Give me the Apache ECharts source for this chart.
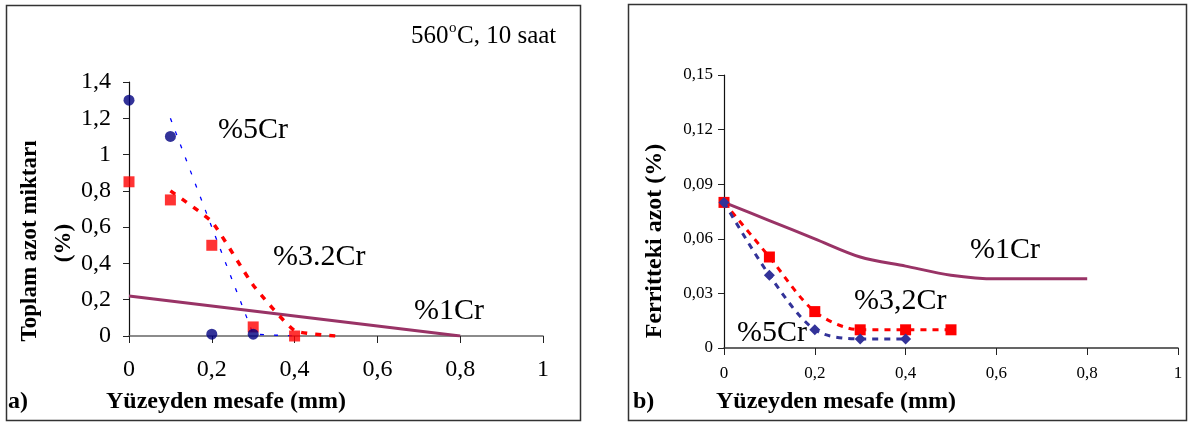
<!DOCTYPE html>
<html>
<head>
<meta charset="utf-8">
<script src="https://cdn.jsdelivr.net/npm/echarts@6/dist/echarts.min.js"></script>
<style>
html,body{margin:0;padding:0;background:#fff;}
#c{width:1190px;height:423px;}
</style>
</head>
<body>
<div id="c"></div>
<script>
// ---- Tick labels ----
const xTickLabels = ['0', '0,2', '0,4', '0,6', '0,8', '1'];
const leftYTickLabels = ['0', '0,2', '0,4', '0,6', '0,8', '1', '1,2', '1,4'];
const rightYTickLabels = ['0', '0,03', '0,06', '0,09', '0,12', '0,15'];

// ---- Data (panel a: total nitrogen) ----
const a_5Cr_points = [[0, 1.3], [0.1, 1.1], [0.2, 0.01], [0.3, 0.01]];
const a_5Cr_trend = [[0.1, 1.2], [0.2, 0.6], [0.3, 0.01], [0.4, 0.0]];
const a_32Cr_points = [[0, 0.85], [0.1, 0.75], [0.2, 0.5], [0.3, 0.05], [0.4, 0.0]];
const a_32Cr_trend = [[0.1, 0.8], [0.2, 0.63], [0.3, 0.28], [0.4, 0.03], [0.5, 0.0]];
const a_1Cr_line = [[0, 0.22], [0.8, 0.0]];

// ---- Data (panel b: nitrogen in ferrite) ----
const b_1Cr = [[0, 0.08], [0.1, 0.07], [0.2, 0.06], [0.3, 0.05], [0.4, 0.045], [0.5, 0.04], [0.6, 0.038], [0.8, 0.038]];
const b_32Cr = [[0, 0.08], [0.1, 0.05], [0.2, 0.02], [0.3, 0.01], [0.4, 0.01], [0.5, 0.01]];
const b_5Cr = [[0, 0.08], [0.1, 0.04], [0.2, 0.01], [0.3, 0.005], [0.4, 0.005]];

const FONT = '"Liberation Serif", "Times New Roman", serif';
const fmt = (labels, step) => v => labels[Math.round(v / step)] ?? '';

// measure text widths for the superscript annotation
const mctx = document.createElement('canvas').getContext('2d');
function tw(text, font) { mctx.font = font; return mctx.measureText(text).width; }
const annFont = '25px ' + FONT, supFont = '15px ' + FONT;
const annX = 411;
const w560 = tw('560', annFont), wSup = tw('o', supFont);

const chart = echarts.init(document.getElementById('c'), null, {renderer: 'canvas'});

function xAxisCfg(gridIndex, fs, margin, lineColor) {
  return {
    gridIndex, type: 'value', min: 0, max: 1, interval: 0.2,
    axisLine: {show: true, lineStyle: {color: lineColor, width: 1.5}},
    axisTick: {show: true, length: 7, lineStyle: {color: '#222', width: 1}},
    axisLabel: {fontFamily: FONT, fontSize: fs, color: '#000', margin, formatter: fmt(xTickLabels, 0.2)},
    splitLine: {show: false}
  };
}
function yAxisCfg(gridIndex, max, interval, labels, fs, margin) {
  return {
    gridIndex, type: 'value', min: 0, max, interval,
    axisLine: {show: true, onZero: false, lineStyle: {color: '#111', width: 1.2}},
    axisTick: {show: true, length: 6, lineStyle: {color: '#222', width: 1}},
    axisLabel: {fontFamily: FONT, fontSize: fs, color: '#000', margin, formatter: fmt(labels, interval)},
    splitLine: {show: false}
  };
}

const option = {
  backgroundColor: '#fff',
  animation: false,
  grid: [
    {left: 129, top: 82, width: 414, height: 254},
    {left: 724, top: 75, width: 454, height: 273}
  ],
  xAxis: [xAxisCfg(0, 24, 22, '#666'), xAxisCfg(1, 17, 17, '#333')],
  yAxis: [
    yAxisCfg(0, 1.4, 0.2, leftYTickLabels, 24, 18),
    yAxisCfg(1, 0.15, 0.03, rightYTickLabels, 17, 11)
  ],
  series: [
    // panel a
    {type: 'line', xAxisIndex: 0, yAxisIndex: 0, data: a_1Cr_line, showSymbol: false,
     lineStyle: {color: '#993366', width: 3}, z: 2},
    {type: 'line', xAxisIndex: 0, yAxisIndex: 0, data: a_5Cr_trend, showSymbol: false,
     lineStyle: {color: '#0000ff', width: 1.3, type: [4, 10]}, z: 3},
    {type: 'line', xAxisIndex: 0, yAxisIndex: 0, data: a_32Cr_trend, showSymbol: false, smooth: 0.15,
     lineStyle: {color: '#ff0000', width: 3.5, type: [6, 8]}, z: 3},
    {type: 'scatter', xAxisIndex: 0, yAxisIndex: 0, data: a_32Cr_points, symbol: 'rect', symbolSize: 11,
     itemStyle: {color: '#ff0000'}, z: 4},
    {type: 'scatter', xAxisIndex: 0, yAxisIndex: 0, data: a_5Cr_points, symbol: 'circle', symbolSize: 11,
     itemStyle: {color: '#000080'}, z: 5},
    // panel b
    {type: 'line', xAxisIndex: 1, yAxisIndex: 1, data: b_1Cr, showSymbol: false, smooth: 0.3,
     lineStyle: {color: '#993366', width: 3}, z: 2},
    {type: 'line', xAxisIndex: 1, yAxisIndex: 1, data: b_32Cr, smooth: 0.3, symbol: 'rect', symbolSize: 11,
     itemStyle: {color: '#ff0000'}, lineStyle: {color: '#ff0000', width: 3, type: [6, 6]}, z: 3},
    {type: 'line', xAxisIndex: 1, yAxisIndex: 1, data: b_5Cr, smooth: 0.3, symbol: 'diamond', symbolSize: 11,
     itemStyle: {color: '#333399'}, lineStyle: {color: '#333399', width: 3, type: [6, 6]}, z: 4}
  ],
  graphic: [
    // panel frames
    {type: 'rect', shape: {x: 6.5, y: 5.5, width: 574, height: 415}, style: {fill: null, stroke: '#333', lineWidth: 1.5}, silent: true, z: -1},
    {type: 'rect', shape: {x: 628.5, y: 4.5, width: 558, height: 416}, style: {fill: null, stroke: '#333', lineWidth: 1.5}, silent: true, z: -1},
    // panel a texts
    {type: 'text', x: annX, y: 36, style: {text: '560', font: annFont, fill: '#000', verticalAlign: 'middle'}},
    {type: 'text', x: annX + w560 + 0.5, y: 28, style: {text: 'o', font: supFont, fill: '#000', verticalAlign: 'middle'}},
    {type: 'text', x: annX + w560 + wSup + 1, y: 36, style: {text: 'C, 10 saat', font: annFont, fill: '#000', verticalAlign: 'middle'}},
    {type: 'text', x: 218, y: 130, style: {text: '%5Cr', font: '30px ' + FONT, fill: '#000', verticalAlign: 'middle'}},
    {type: 'text', x: 273, y: 257, style: {text: '%3.2Cr', font: '30px ' + FONT, fill: '#000', verticalAlign: 'middle'}},
    {type: 'text', x: 414, y: 311, style: {text: '%1Cr', font: '30px ' + FONT, fill: '#000', verticalAlign: 'middle'}},
    {type: 'text', x: 30, y: 241, rotation: Math.PI / 2, style: {text: 'Toplam azot miktarı', font: 'bold 23px ' + FONT, fill: '#000', align: 'center', verticalAlign: 'middle'}},
    {type: 'text', x: 64, y: 243, rotation: Math.PI / 2, style: {text: '(%)', font: 'bold 23px ' + FONT, fill: '#000', align: 'center', verticalAlign: 'middle'}},
    {type: 'text', x: 226, y: 402, style: {text: 'Yüzeyden mesafe (mm)', font: 'bold 24px ' + FONT, fill: '#000', align: 'center', verticalAlign: 'middle'}},
    {type: 'text', x: 8, y: 402, style: {text: 'a)', font: 'bold 24px ' + FONT, fill: '#000', verticalAlign: 'middle'}},
    // panel b texts
    {type: 'text', x: 970, y: 250, style: {text: '%1Cr', font: '30px ' + FONT, fill: '#000', verticalAlign: 'middle'}},
    {type: 'text', x: 854, y: 301, style: {text: '%3,2Cr', font: '30px ' + FONT, fill: '#000', verticalAlign: 'middle'}},
    {type: 'text', x: 737, y: 333, style: {text: '%5Cr', font: '30px ' + FONT, fill: '#000', verticalAlign: 'middle'}},
    {type: 'text', x: 655, y: 241, rotation: Math.PI / 2, style: {text: 'Ferritteki azot (%)', font: 'bold 24px ' + FONT, fill: '#000', align: 'center', verticalAlign: 'middle'}},
    {type: 'text', x: 836, y: 402, style: {text: 'Yüzeyden mesafe (mm)', font: 'bold 24px ' + FONT, fill: '#000', align: 'center', verticalAlign: 'middle'}},
    {type: 'text', x: 633, y: 402, style: {text: 'b)', font: 'bold 24px ' + FONT, fill: '#000', verticalAlign: 'middle'}}
  ]
};
chart.setOption(option);
</script>
</body>
</html>
